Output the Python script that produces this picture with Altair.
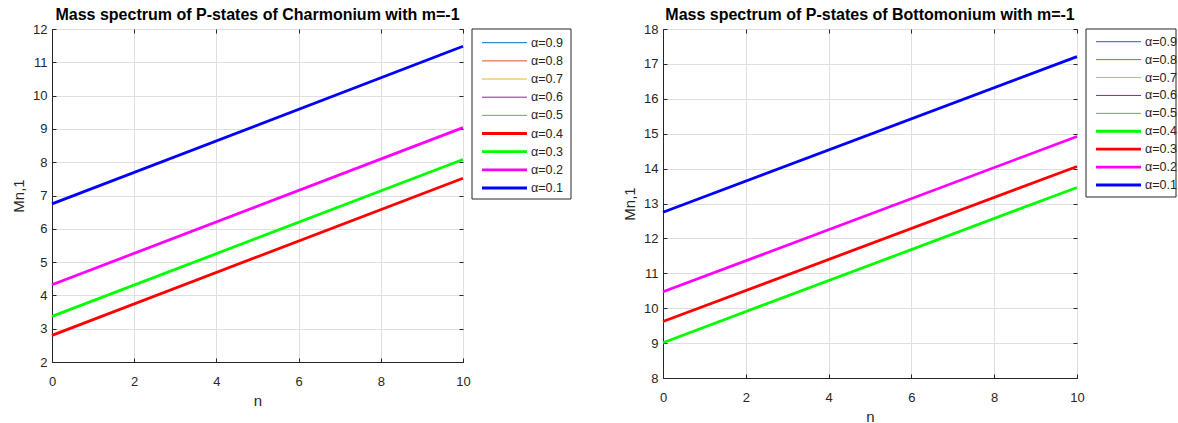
import altair as alt
import pandas as pd

# legend labels, top to bottom
alpha_labels = ["α=0.9", "α=0.8", "α=0.7", "α=0.6", "α=0.5",
                "α=0.4", "α=0.3", "α=0.2", "α=0.1"]
# legend line widths, in legend order
legend_widths = [1, 1, 1, 1, 1, 2.8, 2.8, 2.8, 2.8]
n_values = [0, 10]
n_ticks = [0, 2, 4, 6, 8, 10]

# Charmonium, m=-1: mass at n=0 and n=10
charm_series = {
    "α=0.4": [2.80, 7.52],
    "α=0.3": [3.37, 8.08],
    "α=0.2": [4.32, 9.04],
    "α=0.1": [6.75, 11.48],
}
charm_colors = ["#0072BD", "#D95319", "#EDB120", "#7E2F8E", "#77AC30",
                "#FF0000", "#00FF00", "#FF00FF", "#0000FF"]

# Bottomonium, m=-1: mass at n=0 and n=10
bottom_series = {
    "α=0.4": [9.01, 13.46],
    "α=0.3": [9.62, 14.06],
    "α=0.2": [10.47, 14.92],
    "α=0.1": [12.75, 17.21],
}
bottom_colors = ["#0072BD", "#D95319", "#EDB120", "#7E2F8E", "#77AC30",
                 "#00FF00", "#FF0000", "#FF00FF", "#0000FF"]

LINE_WIDTH = 2.8
FONT = "Liberation Sans"
INK = "#262626"
TICK_IN = alt.ExprRef("-4")  # ticks point into the plot box


def to_frame(series):
    rows = []
    for label, vals in series.items():
        for n, m in zip(n_values, vals):
            rows.append({"n": n, "M": m, "alpha": label})
    return pd.DataFrame(rows)


legend_df = pd.DataFrame({
    "alpha": alpha_labels,
    "lw": legend_widths,
    "row": list(range(len(alpha_labels))),
})
box_df = pd.DataFrame({"box": [0]})


def panel(series, colors, title, ymin, ymax, w, h, rows_top, rows_bottom, box_h, box_w):
    df = to_frame(series)
    yticks = list(range(ymin, ymax + 1))
    xscale = alt.Scale(domain=[0, 10], nice=False)
    yscale = alt.Scale(domain=[ymin, ymax], nice=False)
    color = alt.Color("alpha:N", scale=alt.Scale(domain=alpha_labels, range=colors),
                      legend=None)

    lines = alt.Chart(df).mark_line(strokeWidth=LINE_WIDTH).encode(
        x=alt.X("n:Q", scale=xscale,
                axis=alt.Axis(values=n_ticks, title="n", tickSize=TICK_IN,
                              labelFlush=False, labelPadding=17, titlePadding=5)),
        y=alt.Y("M:Q", scale=yscale,
                axis=alt.Axis(values=yticks, title="Mn,1", tickSize=TICK_IN,
                              labelFlush=False, labelPadding=9, titlePadding=6)),
        color=color,
    )

    # tick marks along the top and right edges of the box
    frame = alt.Chart(df).mark_line(strokeOpacity=0).encode(
        x=alt.X("n:Q", scale=xscale,
                axis=alt.Axis(orient="top", values=n_ticks, title=None, labels=False,
                              grid=False, domain=False, tickSize=TICK_IN)),
        y=alt.Y("M:Q", scale=yscale,
                axis=alt.Axis(orient="right", values=yticks, title=None, labels=False,
                              grid=False, domain=False, tickSize=TICK_IN)),
        detail="alpha:N",
    )

    # legend box to the right of the plot area
    bx0, bx1 = w + 9, w + 9 + box_w
    box = alt.Chart(box_df).mark_rect(fill="white", stroke=INK, strokeWidth=1).encode(
        x=alt.value(bx0), x2=alt.value(bx1), y=alt.value(0), y2=alt.value(box_h),
    )
    row_y = alt.Y("row:Q", axis=None,
                  scale=alt.Scale(domain=[0, len(alpha_labels) - 1],
                                  range=[rows_top, rows_bottom], nice=False, zero=False))
    keys = alt.Chart(legend_df).mark_rule().encode(
        x=alt.value(bx0 + 10), x2=alt.value(bx0 + 55),
        y=row_y, color=color,
        strokeWidth=alt.StrokeWidth("lw:Q", scale=None),
    )
    labels = alt.Chart(legend_df).mark_text(
        align="left", baseline="middle", font=FONT, fontSize=12.5, color=INK,
    ).encode(
        x=alt.value(bx0 + 59), y=row_y, text="alpha:N",
    )

    return alt.layer(lines, frame, box, keys, labels).resolve_scale(
        y="independent",
    ).resolve_axis(
        x="independent", y="independent",
    ).properties(
        width=w, height=h,
        title=alt.TitleParams(title, font=FONT, fontSize=16, fontWeight="bold",
                              color="black", offset=0),
    )


left = panel(charm_series, charm_colors,
             "Mass spectrum of P-states of Charmonium with m=-1",
             2, 12, 411, 333, 13.7, 159, 170, 99)
right = panel(bottom_series, bottom_colors,
              "Mass spectrum of P-states of Bottomonium with m=-1",
              8, 18, 414, 349, 12.7, 156, 168, 90)

chart = alt.hconcat(left, right, spacing=50).resolve_scale(
    color="independent",
).properties(
    padding={"left": 11, "top": 6, "right": 0, "bottom": 0},
    background="white",
).configure_view(
    stroke=INK, strokeWidth=1,
).configure_axis(
    labelFont=FONT, labelFontSize=13, labelColor=INK,
    titleFont=FONT, titleFontSize=15, titleColor=INK, titleFontWeight="normal",
    gridColor="#dfdfdf", gridWidth=1, domainColor=INK, tickColor=INK,
)

chart.save("out.html", embed_options={"renderer": "svg", "actions": False})
